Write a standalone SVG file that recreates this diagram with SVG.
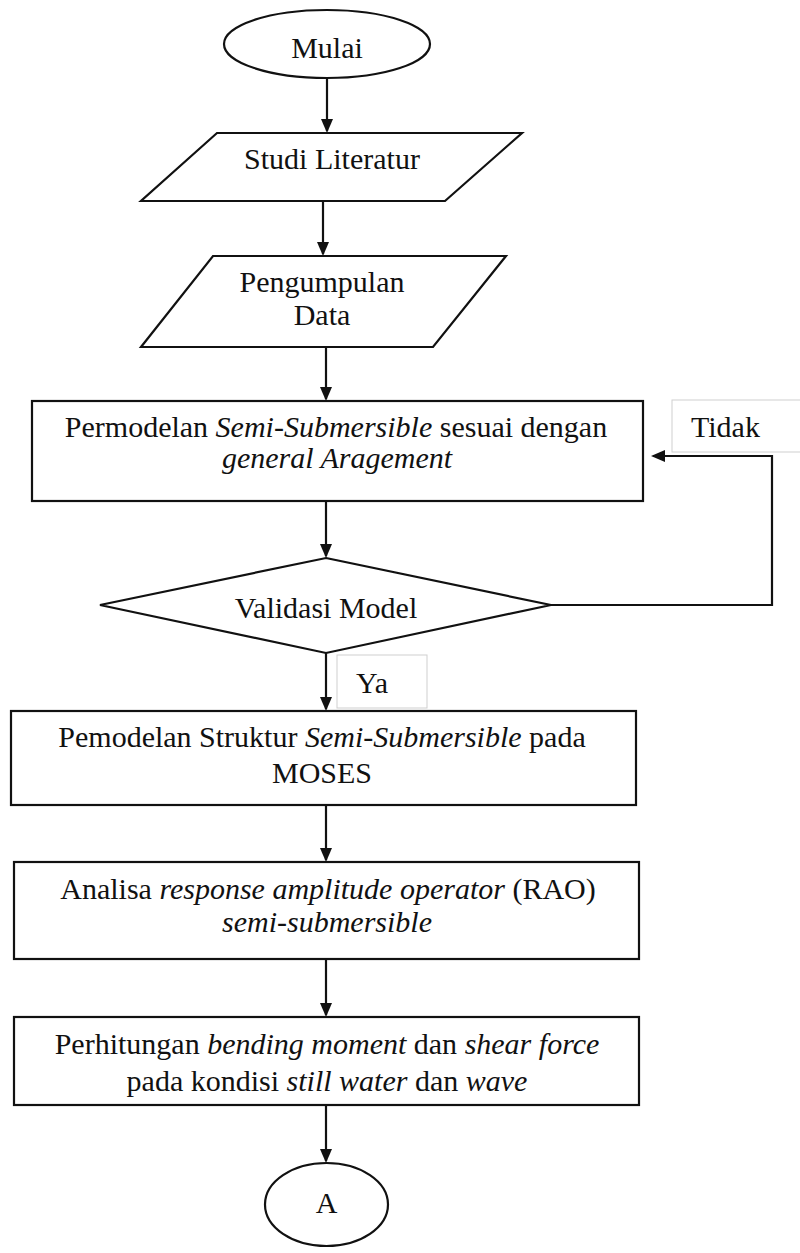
<svg xmlns="http://www.w3.org/2000/svg" width="800" height="1253" viewBox="0 0 800 1253">
<style>
.shape{fill:#ffffff;stroke:#111111;stroke-width:2.2}
.lbl{fill:#ffffff;stroke:#cfcfcf;stroke-width:1}
.t{font-family:"Liberation Serif","Times New Roman",serif;font-size:30px;fill:#111111;text-anchor:middle}
.ts{font-family:"Liberation Serif","Times New Roman",serif;font-size:30px;fill:#111111}
.i{font-style:italic}
.conn{fill:none;stroke:#111111;stroke-width:2.2}
</style>
<defs>
<marker id="arr" viewBox="0 0 14 12" refX="12" refY="6" markerWidth="14" markerHeight="12" markerUnits="userSpaceOnUse" orient="auto">
<path d="M0,0 L14,6 L0,12 z" fill="#111111"/>
</marker>
</defs>
<rect width="800" height="1253" fill="#ffffff"/>

<g id="connectors">
<path class="conn" d="M327,78 V131" marker-end="url(#arr)"/>
<path class="conn" d="M323,201 V254" marker-end="url(#arr)"/>
<path class="conn" d="M326,347 V399" marker-end="url(#arr)"/>
<path class="conn" d="M326,501 V556" marker-end="url(#arr)"/>
<path class="conn" d="M551,605 H772 V456 H653" marker-end="url(#arr)"/>
<path class="conn" d="M326,653 V709" marker-end="url(#arr)"/>
<path class="conn" d="M326,805 V860" marker-end="url(#arr)"/>
<path class="conn" d="M326,959 V1015" marker-end="url(#arr)"/>
<path class="conn" d="M326,1105 V1161" marker-end="url(#arr)"/>
</g>

<g id="mulai">
<ellipse class="shape" cx="327" cy="44" rx="103" ry="34"/>
<text class="t" x="327" y="58">Mulai</text>
</g>

<g id="studi">
<polygon class="shape" points="217,133 522,133 445,201 141,201"/>
<text class="t" x="332" y="169">Studi Literatur</text>
</g>

<g id="pengumpulan">
<polygon class="shape" points="213,256 506,256 433,347 141,347"/>
<text class="t" x="322" y="292">Pengumpulan</text>
<text class="t" x="322" y="325">Data</text>
</g>

<g id="permodelan">
<rect class="shape" x="32" y="401" width="611" height="100"/>
<text class="t" x="336" y="437">Permodelan <tspan class="i">Semi-Submersible</tspan> sesuai dengan</text>
<text class="t i" x="337" y="468">general Aragement</text>
</g>

<g id="label-tidak">
<rect class="lbl" x="672" y="400" width="135" height="52"/>
<text class="ts" x="691" y="437">Tidak</text>
</g>

<g id="validasi">
<polygon class="shape" points="326,558 551,605 326,653 100,605"/>
<text class="t" x="326" y="618">Validasi Model</text>
</g>

<g id="label-ya">
<rect class="lbl" x="337" y="655" width="90" height="53"/>
<text class="t" x="372" y="693">Ya</text>
</g>

<g id="pemodelan">
<rect class="shape" x="11" y="711" width="625" height="94"/>
<text class="t" x="322" y="747">Pemodelan Struktur <tspan class="i">Semi-Submersible</tspan> pada</text>
<text class="t" x="322" y="783">MOSES</text>
</g>

<g id="analisa">
<rect class="shape" x="14" y="862" width="625" height="97"/>
<text class="t" x="328" y="899">Analisa <tspan class="i">response amplitude operator</tspan> (RAO)</text>
<text class="t i" x="327" y="932">semi-submersible</text>
</g>

<g id="perhitungan">
<rect class="shape" x="14" y="1017" width="625" height="88"/>
<text class="t" x="327" y="1054">Perhitungan <tspan class="i">bending moment</tspan> dan <tspan class="i">shear force</tspan></text>
<text class="t" x="327" y="1091">pada kondisi <tspan class="i">still water</tspan> dan <tspan class="i">wave</tspan></text>
</g>

<g id="connector-a">
<ellipse class="shape" cx="326.5" cy="1204.5" rx="61.5" ry="41.5"/>
<text class="t" x="326.5" y="1213">A</text>
</g>
</svg>
